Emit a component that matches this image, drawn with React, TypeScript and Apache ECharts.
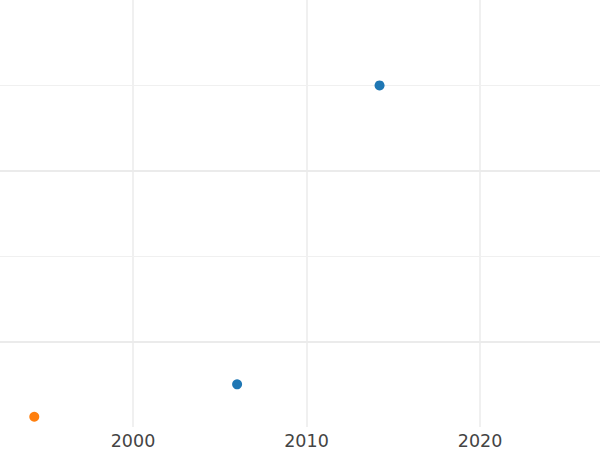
import React, { useEffect, useRef } from "react";
import * as echarts from "echarts";

const blueYears = [2014.21, 2006.0];
const blueValues = [4.0, 0.5];
const orangeYears = [1994.31];
const orangeValues = [0.12];
const xTickLabels = [2000, 2010, 2020];
const majorY = [1, 3];
const minorY = [2, 4];

export default function App() {
  const ref = useRef<HTMLDivElement>(null);
  useEffect(() => {
    const chart = echarts.init(ref.current!, undefined, { renderer: "svg" });
    const gridColor = "#ebebeb";
    chart.setOption({
      animation: false,
      backgroundColor: "#ffffff",
      grid: { left: 0, right: 0, top: 0, bottom: 23, containLabel: false },
      xAxis: {
        type: "value",
        min: 1992.334,
        max: 2026.916,
        axisLine: { show: false },
        axisTick: { show: false },
        splitLine: { show: false },
        axisLabel: {
          customValues: xTickLabels,
          color: "#444444",
          fontSize: 17.5,
          fontFamily: "DejaVu Sans",
          margin: 5,
          formatter: (v: number) => String(Math.round(v)),
        },
      },
      yAxis: {
        type: "value",
        min: 0,
        max: 5,
        show: true,
        axisLine: { show: false },
        axisTick: { show: false },
        axisLabel: { show: false },
        splitLine: { show: false },
      },
      series: [
        {
          type: "scatter",
          name: "grid",
          data: [],
          silent: true,
          markLine: {
            silent: true,
            symbol: "none",
            label: { show: false },
            animation: false,
            data: [
              ...xTickLabels.map((v) => ({ xAxis: v, lineStyle: { color: gridColor, width: 1.5, type: "solid" } })),
              ...majorY.map((v) => ({ yAxis: v, lineStyle: { color: gridColor, width: 2, type: "solid" } })),
              ...minorY.map((v) => ({ yAxis: v, lineStyle: { color: "#f0f0f0", width: 1, type: "solid" } })),
            ],
          },
        },
        {
          type: "scatter",
          name: "blue",
          symbolSize: 10,
          itemStyle: { color: "#1f77b4", opacity: 1 },
          data: blueYears.map((x, i) => [x, blueValues[i]]),
          z: 5,
        },
        {
          type: "scatter",
          name: "orange",
          symbolSize: 10,
          itemStyle: { color: "#ff7f0e", opacity: 1 },
          data: orangeYears.map((x, i) => [x, orangeValues[i]]),
          z: 5,
        },
      ],
    });
    return () => chart.dispose();
  }, []);
  return (
    <div
      ref={ref}
      style={{ position: "fixed", left: 0, top: 0, width: 600, height: 450 }}
    />
  );
}
